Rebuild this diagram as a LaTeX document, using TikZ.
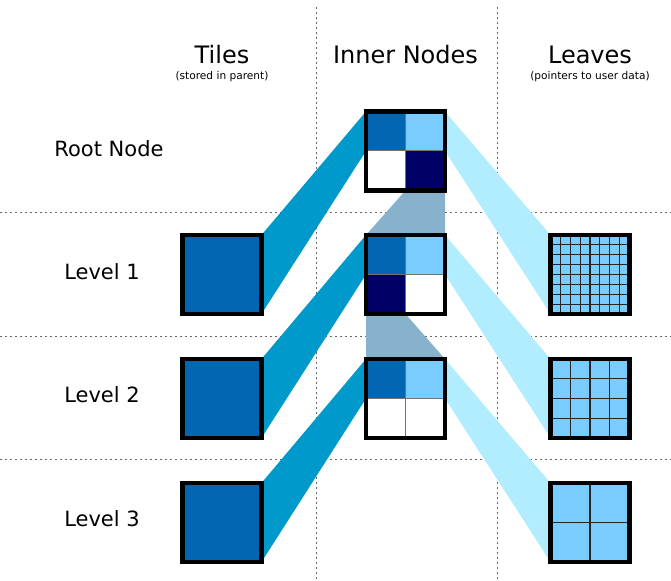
\documentclass[tikz,border=0pt]{standalone}
\usepackage{fontspec}
\setmainfont{DejaVu Sans}
\usepackage{tikz}
\usetikzlibrary{calc}
\definecolor{tileblue}{rgb}{0.,0.4,0.7}
\definecolor{lightblue}{rgb}{0.47,0.8,1.}
\definecolor{navyblue}{rgb}{0.,0.,0.4}
\definecolor{wedgecyan}{rgb}{0.,0.6,0.8}
\definecolor{wedgelight}{rgb}{0.7,0.93,1.}
\definecolor{wedgegrey}{rgb}{0.53,0.7,0.8}
\tikzstyle{every node}=[font=\fontsize{10.5}{12}\selectfont]

\begin{document}
\begin{tikzpicture}[line cap=rect,line join=miter,x=0.5pt,y=-0.5pt,
    box/.style={inner sep=0pt,outer sep=0pt,minimum size=39.5pt},
    frame/.style={line width=2.1pt,draw=black},
    cellline/.style={line width=0.5pt,draw=black!55},
    gridline/.style={line width=0.6pt,draw=black!85},
    sep/.style={dotted,line width=0.5pt,draw=black!60}]
        \useasboundingbox (0,0) rectangle (671,581);
        \draw[sep] (316,8) -- (316,581);
        \draw[sep] (497,8) -- (497,581);
        \draw[sep] (0,213) -- (671,213);
        \draw[sep] (0,337) -- (671,337);
        \draw[sep] (0,460) -- (671,460);
        \node at (222,55) {\fontsize{12}{14}\selectfont Tiles};
        \node at (222,77) {\fontsize{5.3}{6}\selectfont (stored in parent)};
        \node at (405.5,55) {\fontsize{12}{14}\selectfont Inner Nodes};
        \node at (590,55) {\fontsize{12}{14}\selectfont Leaves};
        \node at (590,77) {\fontsize{5.3}{6}\selectfont (pointers to user data)};
        \node (lroot) at (109,149) {Root Node};
        \node (lone) at (102,272) {Level 1};
        \node (ltwo) at (102,395) {Level 2};
        \node (lthree) at (102,519) {Level 3};
        \node[box] (root) at (405.5,151) {};
        \node[box] (inone) at (405.5,274.5) {};
        \node[box] (intwo) at (405.5,398.5) {};
        \node[box] (tone) at (222,274.5) {};
        \node[box] (ttwo) at (222,398.5) {};
        \node[box] (tthree) at (222,522.5) {};
        \node[box] (leafone) at (590,274.5) {};
        \node[box] (leaftwo) at (590,398.5) {};
        \node[box] (leafthree) at (590,522.5) {};
        \fill[wedgecyan] (tone.north east) -- (root.north west) -- (root.west) -- (tone.south east) -- cycle;
        \fill[wedgecyan] (ttwo.north east) -- (inone.north west) -- (inone.west) -- (ttwo.south east) -- cycle;
        \fill[wedgecyan] (tthree.north east) -- (intwo.north west) -- (intwo.west) -- (tthree.south east) -- cycle;
        \fill[wedgelight] (root.north east) -- (leafone.north west) -- (leafone.south west) -- (root.east) -- cycle;
        \fill[wedgelight] (inone.north east) -- (leaftwo.north west) -- (leaftwo.south west) -- (inone.east) -- cycle;
        \fill[wedgelight] (intwo.north east) -- (leafthree.north west) -- (leafthree.south west) -- (intwo.east) -- cycle;
        \fill[wedgegrey] (root.south) -- (root.south east) -- (inone.north east) -- (inone.north west) -- cycle;
        \fill[wedgegrey] (inone.south west) -- (inone.south) -- (intwo.north east) -- (intwo.north west) -- cycle;
        \fill[tileblue] (root.north west) rectangle (root.center);
        \fill[lightblue] (root.north) rectangle (root.east);
        \fill[white] (root.west) rectangle (root.south);
        \fill[navyblue] (root.center) rectangle (root.south east);
        \fill[tileblue] (inone.north west) rectangle (inone.center);
        \fill[lightblue] (inone.north) rectangle (inone.east);
        \fill[navyblue] (inone.west) rectangle (inone.south);
        \fill[white] (inone.center) rectangle (inone.south east);
        \fill[tileblue] (intwo.north west) rectangle (intwo.center);
        \fill[lightblue] (intwo.north) rectangle (intwo.east);
        \fill[white] (intwo.west) rectangle (intwo.south east);
        \foreach \n in {root,inone,intwo}{
            \draw[cellline] (\n.north) -- (\n.south);
            \draw[cellline] (\n.west) -- (\n.east);
        }
        \foreach \n in {tone,ttwo,tthree}
            \fill[tileblue] (\n.north west) rectangle (\n.south east);
        \foreach \n/\k in {leafone/8,leaftwo/4,leafthree/2}{
            \fill[lightblue] (\n.north west) rectangle (\n.south east);
            \foreach \i in {1,...,\k}{
                \draw[gridline] ($(\n.north west)!\i/\k!(\n.north east)$) -- ($(\n.south west)!\i/\k!(\n.south east)$);
                \draw[gridline] ($(\n.north west)!\i/\k!(\n.south west)$) -- ($(\n.north east)!\i/\k!(\n.south east)$);
            }
        }
        \foreach \n in {root,inone,intwo,tone,ttwo,tthree,leafone,leaftwo,leafthree}
            \draw[frame] (\n.north west) rectangle (\n.south east);
\end{tikzpicture}
\end{document}
